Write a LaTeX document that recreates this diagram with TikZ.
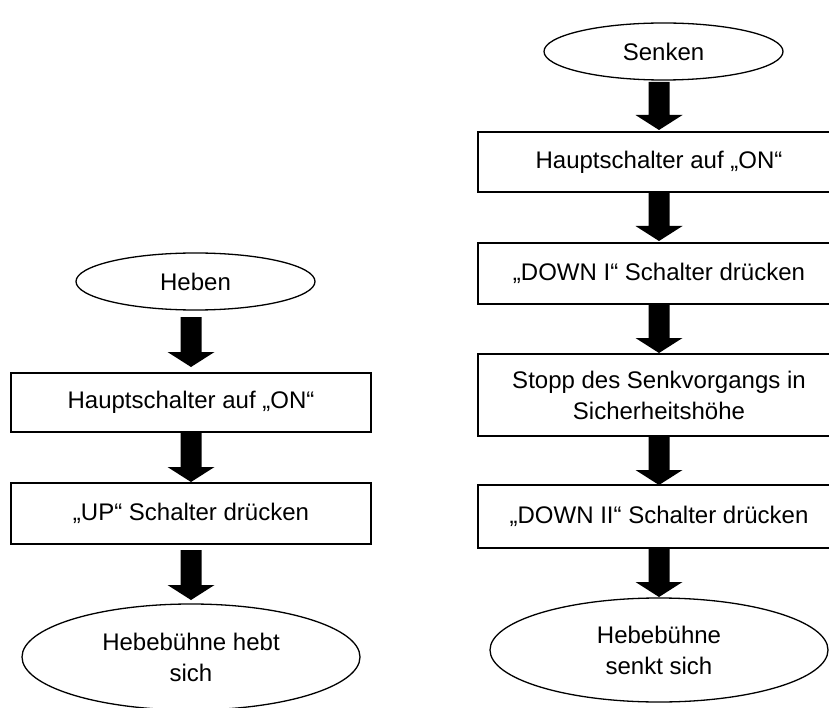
\documentclass[tikz,border=0pt]{standalone}
\usepackage{fontspec}
\setmainfont{Liberation Sans}
\usetikzlibrary{calc,shapes.geometric}
\newcommand{\blockarrow}[4]{%
  \fill let \p1=($(#2.north |- #1.south)+(0,-#3)$), \p2=($(#2.north)+(0,#4)$) in
  (\x1-10.5pt,\y1) -- (\x1-10.5pt,\y2+15pt) -- (\x1-23.5pt,\y2+15pt) -- (\x1,\y2)
  -- (\x1+23.5pt,\y2+15pt) -- (\x1+10.5pt,\y2+15pt) -- (\x1+10.5pt,\y1) -- cycle;}
\begin{document}
\begin{tikzpicture}[x=1pt,y=1pt,
  every node/.style={font=\fontsize{24}{31}\selectfont, inner sep=0pt, outer sep=0pt},
  stepbox/.style={draw, line width=1.3pt, rectangle, minimum width=362pt, align=center},
  oval/.style={draw, line width=1.3pt, ellipse, align=center}]
\useasboundingbox (0,0) rectangle (829,-708);
\fill[white] (0,0) rectangle (829,-708);
% left column
\node[oval, minimum width=239pt, minimum height=57pt] (heben) at (195.5,-281.5) {Heben};
\node[stepbox, minimum width=360pt, minimum height=59pt] (l1) at (191,-402.5) {Hauptschalter auf „ON“};
\node[stepbox, minimum width=360pt, minimum height=61pt] (l2) at (191,-513.5) {„UP“ Schalter drücken};
\node[oval, minimum width=338pt, minimum height=106pt] (l3) at (191,-657) {Hebebühne hebt\\sich};
% right column
\node[oval, minimum width=239pt, minimum height=57pt] (senken) at (663.5,-51.5) {Senken};
\node[stepbox, minimum height=60pt] (r1) at (659,-162) {Hauptschalter auf „ON“};
\node[stepbox, minimum height=61pt] (r2) at (659,-273.5) {„DOWN I“ Schalter drücken};
\node[stepbox, minimum height=82pt] (r3) at (659,-395) {Stopp des Senkvorgangs in\\Sicherheitshöhe};
\node[stepbox, minimum height=63pt] (r4) at (659,-516.5) {„DOWN II“ Schalter drücken};
\node[oval, minimum width=338pt, minimum height=104pt] (r5) at (659,-650) {Hebebühne\\senkt sich};
% arrows
\blockarrow{heben}{l1}{7}{6}
\blockarrow{l1}{l2}{0}{1}
\blockarrow{l2}{l3}{6}{4}
\blockarrow{senken}{r1}{2}{2}
\blockarrow{r1}{r2}{0}{2}
\blockarrow{r2}{r3}{0}{1}
\blockarrow{r3}{r4}{0}{0}
\blockarrow{r4}{r5}{0}{1}
\end{tikzpicture}
\end{document}
